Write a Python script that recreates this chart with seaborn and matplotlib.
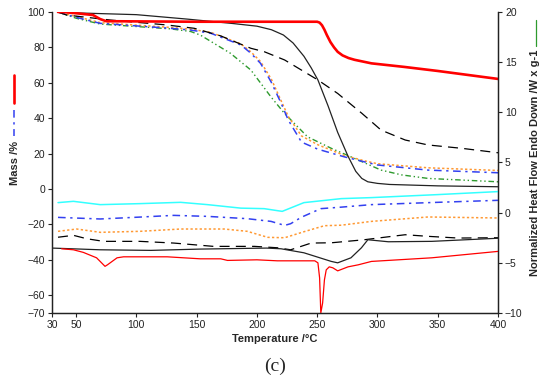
import matplotlib
matplotlib.use("Agg")
import matplotlib.pyplot as plt
from matplotlib.lines import Line2D
import seaborn as sns

# TGA curves (left axis, mass %)
t_red_tga = [35, 39, 50, 64, 70, 75, 150, 200, 250, 252, 254, 256, 258, 261, 264, 267, 271, 276, 281,
             295, 322, 350, 400]
m_red_tga = [100, 100, 99.3, 98.3, 96, 94.8, 94.5, 94.5, 94.5, 94, 92.5, 90, 87, 83, 80, 77.5, 75.5, 74,
             73, 71, 69, 66.7, 62.2]

t_blk_tga = [35, 50, 100, 142, 180, 200, 212, 222, 230, 239, 245, 250.6, 259, 267, 275.6, 282, 287, 292,
             300, 310, 350, 400]
m_blk_tga = [100, 99.5, 98.5, 96, 93.5, 92, 90, 87, 82.5, 75, 68.5, 61.6, 47, 32, 18.5, 10, 6, 4.1,
             3.2, 2.6, 1.8, 1.3]

t_dash_tga = [35, 42, 78, 125, 148, 170, 186, 195, 206, 223, 250.6, 267, 287, 303, 323, 342, 370, 400]
m_dash_tga = [100, 98.3, 95.5, 92.7, 90.8, 86.5, 82, 79.5, 77.6, 72.9, 61.6, 54, 42.8, 33.3, 27.7, 24.9, 23, 20.5]

t_blue_tga = [35, 50, 70, 128, 145, 161.7, 186.7, 195, 203, 211.7, 220, 226, 237, 250.6, 272.5, 289, 300, 342, 400]
m_blue_tga = [100, 97, 93.6, 90.8, 89.8, 88, 81.4, 76.7, 71, 60.6, 48.6, 39, 26.5, 22.5, 18.2, 15.4, 13.6, 10.7, 9.2]

t_orange_tga = [35, 50, 70, 128, 145, 161.7, 186.7, 195, 203, 212, 220, 226, 237, 250.6, 272.5, 289, 300, 342, 400]
m_orange_tga = [100, 97.5, 94, 91.3, 90.3, 88.5, 82, 77.5, 72, 62, 50, 41, 30, 25, 19, 16, 14.3, 12, 10.5]

t_green_tga = [35, 50, 70, 128, 145, 153, 178, 195, 211.7, 222.8, 242, 261.7, 278, 287, 303, 320, 342, 400]
m_green_tga = [100, 96.5, 93.2, 90.5, 89, 87, 76.7, 67.2, 52, 42.8, 29.5, 23, 18.2, 15.5, 10.7, 8, 6, 4.1]

# DSC curves (right axis, W/g)
t_cyan = [35, 47.8, 70, 103, 136.7, 159, 186.7, 206, 217, 221, 239, 270, 295, 350, 400]
h_cyan = [1.0, 1.13, 0.8, 0.9, 1.03, 0.8, 0.45, 0.4, 0.2, 0.13, 1.0, 1.4, 1.5, 1.8, 2.1]

t_blue = [35, 70, 98, 131, 159, 192, 211.7, 223, 228, 237, 253, 270, 295, 350, 400]
h_blue = [-0.47, -0.63, -0.47, -0.27, -0.37, -0.6, -0.87, -1.27, -1.1, -0.45, 0.4, 0.55, 0.8, 1.03, 1.23]

t_orange = [35, 50.5, 70, 103, 136.7, 172.8, 192, 209, 223, 239, 256, 270, 295, 342, 400]
h_orange = [-1.86, -1.63, -1.96, -1.86, -1.63, -1.63, -1.86, -2.46, -2.5, -1.9, -1.3, -1.25, -0.87, -0.43, -0.53]

t_dash = [35, 47.8, 58.9, 72.8, 103, 131, 164, 198, 217, 228, 245, 262, 289, 312, 323, 342, 367, 400]
h_dash = [-2.45, -2.26, -2.6, -2.86, -2.86, -3.03, -3.36, -3.36, -3.5, -3.7, -3.03, -3.0, -2.7, -2.36, -2.2, -2.36, -2.53, -2.5]

t_blk = [30, 70, 112, 153, 208, 220, 239, 261.7, 267, 278, 286.7, 292, 309, 345, 400]
h_blk = [-3.53, -3.7, -3.76, -3.63, -3.53, -3.6, -4.0, -4.86, -5.0, -4.5, -3.5, -2.7, -2.9, -2.86, -2.55]

t_red = [38, 47.8, 56, 67, 74, 76, 84, 89.4, 125.6, 153, 170, 175.6, 200, 217, 248, 250.6, 252,
         253, 254.5, 256, 257.5, 260, 263, 267, 275.6, 284, 295, 345, 400]
h_red = [-3.6, -3.7, -3.96, -4.5, -5.35, -5.2, -4.5, -4.4, -4.4, -4.6, -4.6, -4.76, -4.7, -4.8, -4.8, -5.0, -6.5,
         -10, -9, -6.7, -5.7, -5.4, -5.5, -5.8, -5.4, -5.2, -4.86, -4.5, -3.86]

x_ticks = [30, 50, 100, 150, 200, 250, 300, 350, 400]
mass_ticks = [100, 80, 60, 40, 20, 0, -20, -40, -60, -70]
hf_ticks = [20, 15, 10, 5, 0, -5, -10]

RED = "#FF0000"
BLUE = "#3340F0"
ORANGE = "#FF9933"
GREEN = "#2E9A2E"
CYAN = "#33FFFF"

sns.set_style("ticks")
plt.rcParams["font.family"] = ["Liberation Sans", "DejaVu Sans"]

fig = plt.figure(figsize=(5.5, 3.81), dpi=100)
ax = fig.add_axes([0.0945, 0.1785, 0.811, 0.79])
ax2 = ax.twinx()

# TGA
sns.lineplot(x=t_green_tga, y=m_green_tga, ax=ax, color=GREEN, lw=1.0, ls=(0, (4, 2, 1, 2, 1, 2)))
sns.lineplot(x=t_orange_tga, y=m_orange_tga, ax=ax, color=ORANGE, lw=1.1, ls=(0, (1.5, 1.5)))
sns.lineplot(x=t_blue_tga, y=m_blue_tga, ax=ax, color=BLUE, lw=1.1, ls=(0, (5, 3, 1.5, 3)))
sns.lineplot(x=t_dash_tga, y=m_dash_tga, ax=ax, color="black", lw=0.9, ls=(0, (8, 5)))
sns.lineplot(x=t_blk_tga, y=m_blk_tga, ax=ax, color="#222222", lw=0.9)
sns.lineplot(x=t_red_tga, y=m_red_tga, ax=ax, color=RED, lw=1.9)

# DSC
sns.lineplot(x=t_cyan, y=h_cyan, ax=ax2, color=CYAN, lw=1.1)
sns.lineplot(x=t_blue, y=h_blue, ax=ax2, color=BLUE, lw=1.1, ls=(0, (5, 3, 1.5, 3)))
sns.lineplot(x=t_orange, y=h_orange, ax=ax2, color=ORANGE, lw=1.1, ls=(0, (1.5, 1.5)))
sns.lineplot(x=t_dash, y=h_dash, ax=ax2, color="black", lw=0.9, ls=(0, (8, 5)))
sns.lineplot(x=t_blk, y=h_blk, ax=ax2, color="#222222", lw=0.9)
sns.lineplot(x=t_red, y=h_red, ax=ax2, color=RED, lw=0.9)

ax.set_xlim(30, 400)
ax.set_ylim(-70, 100)
ax2.set_ylim(-10, 20)
ax.set_xticks(x_ticks)
ax.set_yticks(mass_ticks)
ax2.set_yticks(hf_ticks)

for a in (ax, ax2):
    a.tick_params(labelsize=7.5, length=3, width=0.8, colors="#222222", pad=2)
    a.spines["top"].set_visible(False)
    for s in ("left", "right", "bottom"):
        a.spines[s].set_color("#222222")
        a.spines[s].set_linewidth(0.9)

ax.set_xlabel("Temperature /°C", fontsize=8, fontweight="bold", labelpad=3)
ax.set_ylabel("")
ax2.set_ylabel("")
fig.text(0.027, 1 - 163 / 381, "Mass /%", rotation=90, fontsize=8, fontweight="bold",
         ha="center", va="center")
fig.text(0.972, 1 - 163 / 381, "Normalized Heat Flow Endo Down /W x g-1", rotation=90,
         fontsize=8, fontweight="bold", ha="center", va="center")

# legend keys next to the axis titles
fig.add_artist(Line2D([14 / 550, 14 / 550], [1 - 75 / 381, 1 - 103 / 381], color=RED, lw=1.9))
fig.add_artist(Line2D([14 / 550, 14 / 550], [1 - 110 / 381, 1 - 136 / 381], color=BLUE, lw=1.1,
                      ls=(0, (5, 3, 1.5, 3))))
fig.add_artist(Line2D([536 / 550, 536 / 550], [1 - 20 / 381, 1 - 46 / 381], color=GREEN, lw=0.9))

fig.text(0.5, 1 - 366 / 381, "(c)", fontsize=14, family="Liberation Serif", ha="center", va="center")

fig.savefig("out.png", dpi=100)
